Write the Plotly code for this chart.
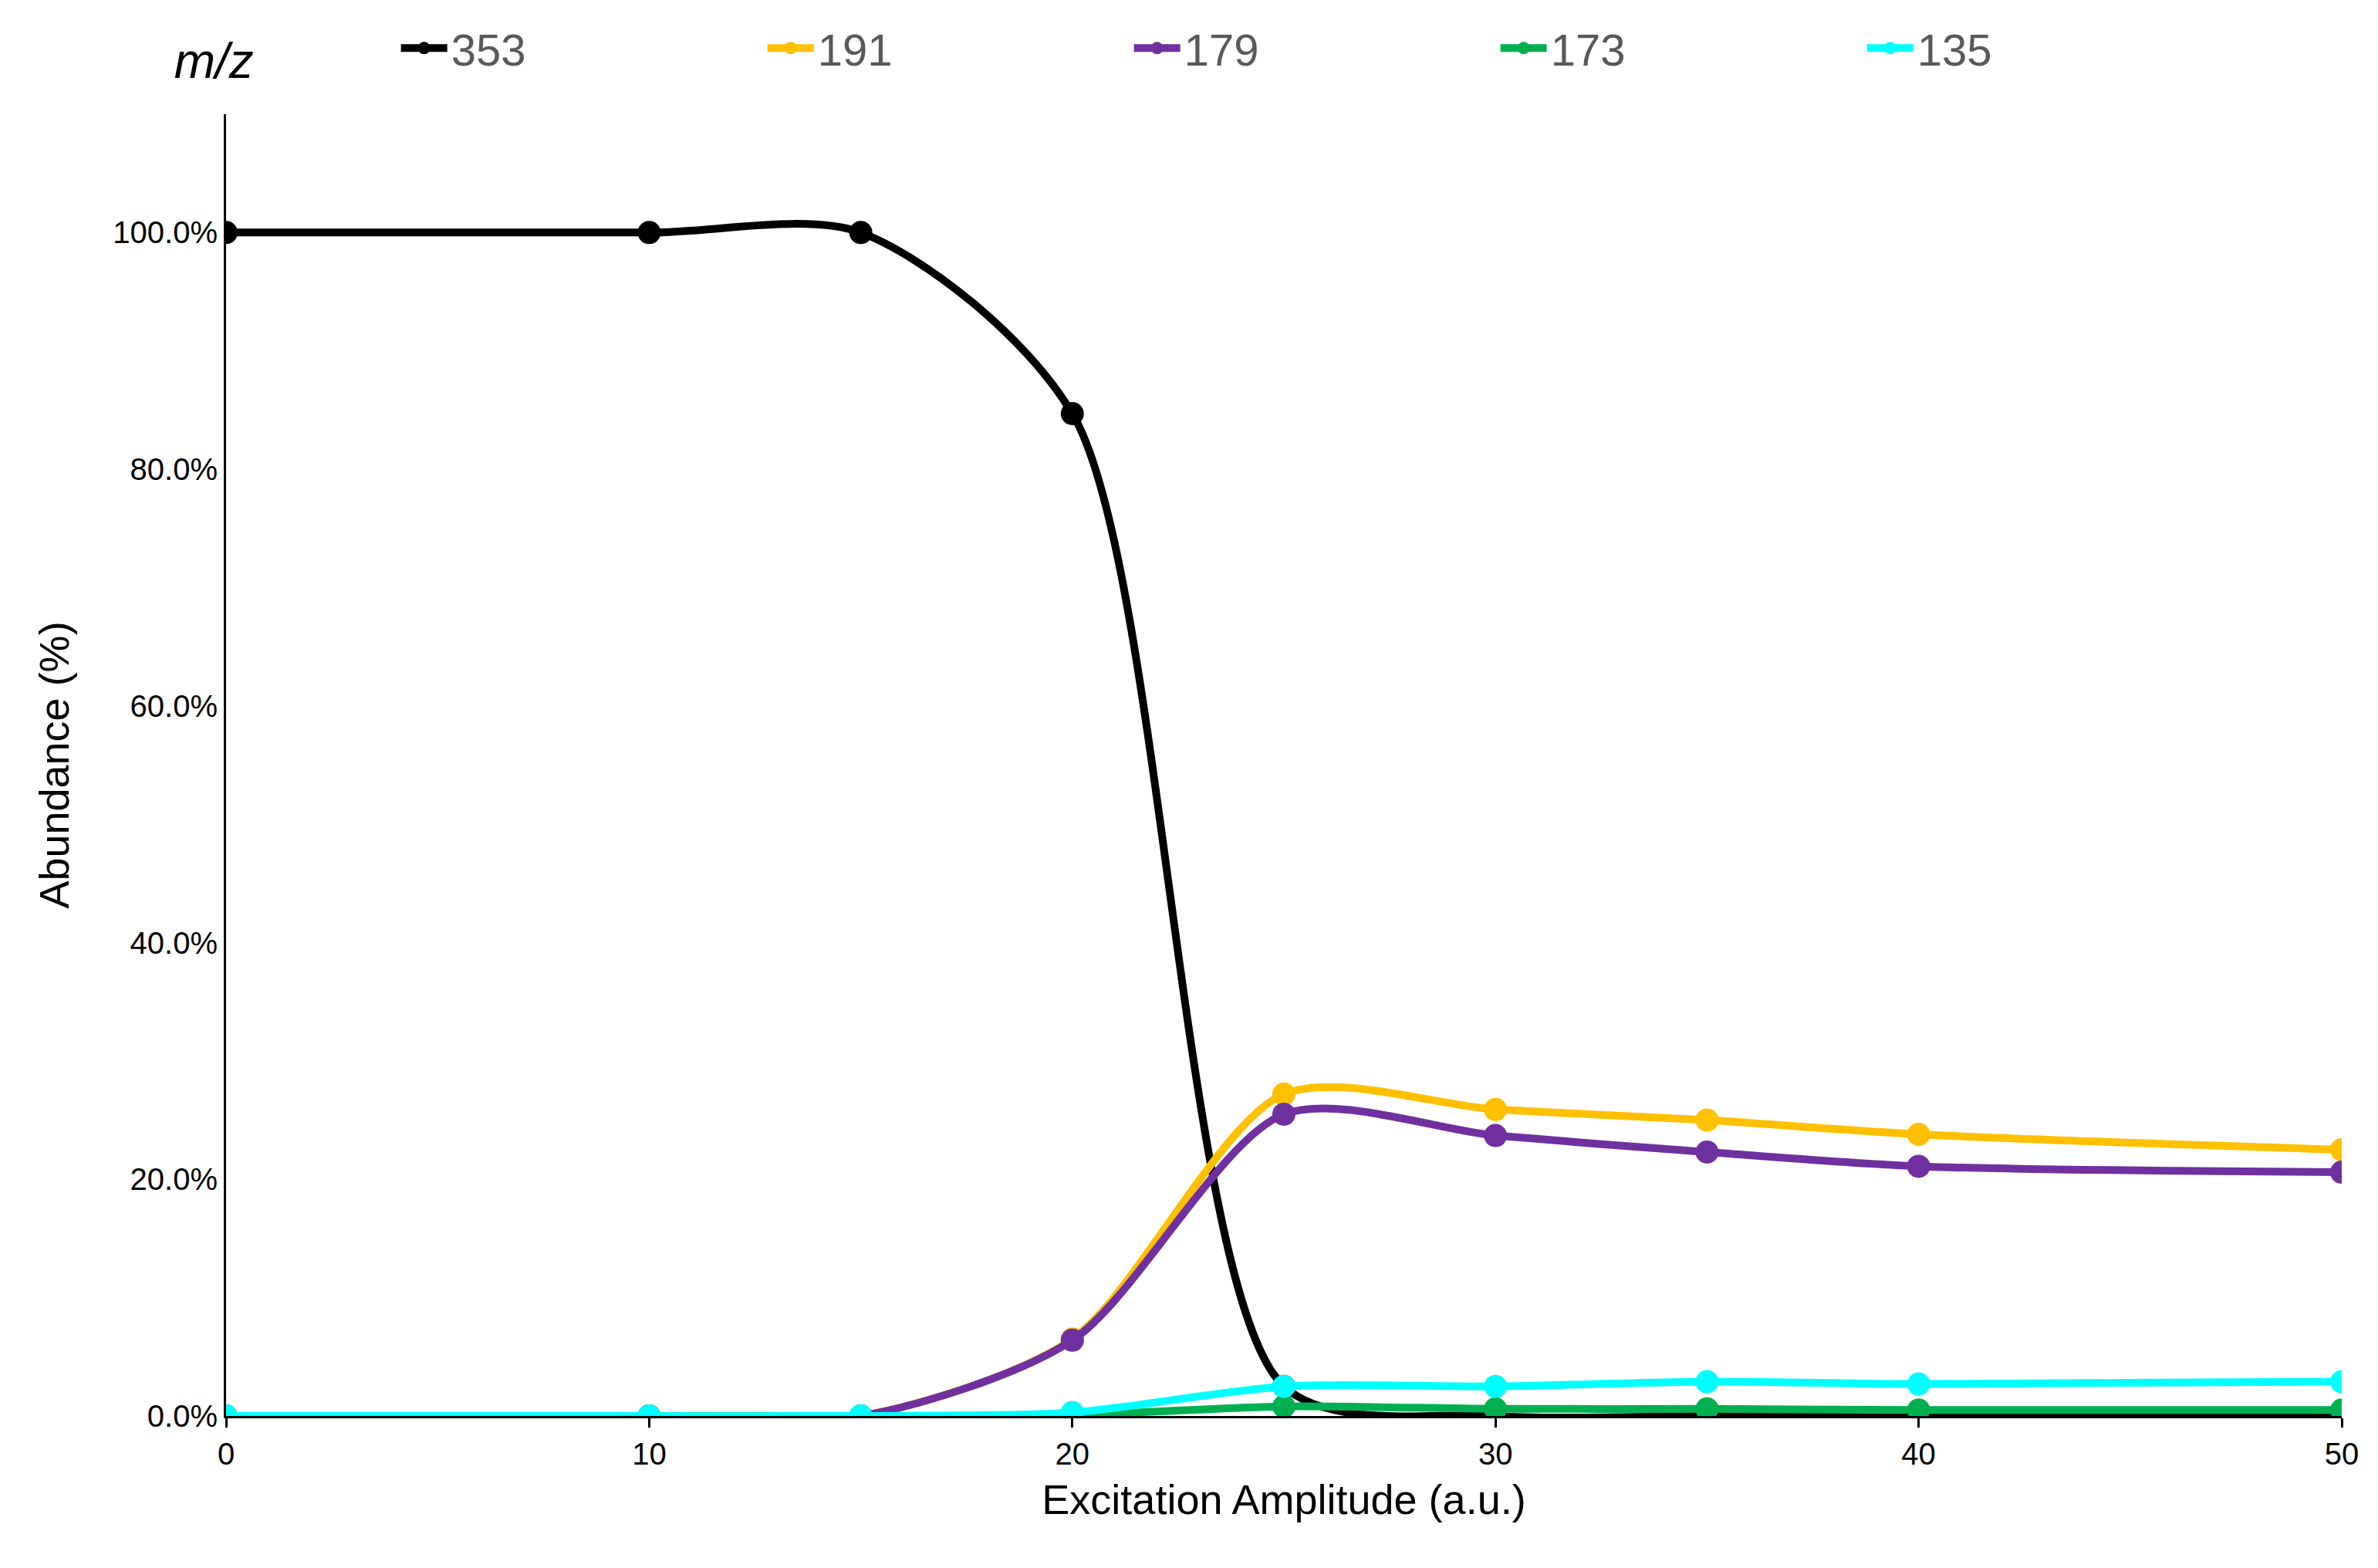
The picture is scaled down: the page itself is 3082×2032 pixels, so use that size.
import plotly.graph_objects as go

x = [0, 10, 15, 20, 25, 30, 35, 40, 50]
s353 = [100, 100, 100, 84.7, 2.5, 0, 0, 0, 0]
s191 = [0, 0, 0, 6.5, 27.2, 25.9, 25.0, 23.8, 22.5]
s179 = [0, 0, 0, 6.4, 25.5, 23.7, 22.3, 21.1, 20.6]
s173 = [0, 0, 0, 0.1, 0.8, 0.6, 0.6, 0.5, 0.5]
s135 = [0, 0, 0, 0.3, 2.5, 2.5, 2.9, 2.7, 2.9]
names = ["353", "191", "179", "173", "135"]
colors = ["#000000", "#FFC000", "#7030A0", "#00B050", "#00FFFF"]
series = [s353, s191, s179, s173, s135]

fig = go.Figure()
for n, c, s in zip(names, colors, series):
    fig.add_trace(go.Scatter(x=x, y=[v / 100 for v in s], name=n, mode="lines+markers",
                             line=dict(color=c, width=10, shape="spline", smoothing=0.8),
                             marker=dict(color=c, size=30)))

fig.update_layout(
    width=3082, height=2032, paper_bgcolor="white", plot_bgcolor="white",
    font=dict(family="Liberation Sans, Arial", color="#595959", size=40),
    margin=dict(l=285, r=55, t=140, b=205),
    showlegend=True,
    legend=dict(orientation="h", x=0.07, xref="container", xanchor="left",
                y=0.995, yref="container", yanchor="top",
                entrywidth=400, entrywidthmode="pixels",
                font=dict(size=58, color="#595959"),
                title=dict(text="<i>m/z</i>          ", font=dict(size=64, color="#000000")),
                itemwidth=60),
    xaxis=dict(range=[0, 50], tickvals=[0, 10, 20, 30, 40, 50], showgrid=False, zeroline=False,
               showline=True, linecolor="black", linewidth=3, ticks="outside", ticklen=12,
               tickcolor="black", tickwidth=3, tickfont=dict(size=40, color="black"),
               title=dict(text="Excitation Amplitude (a.u.)", font=dict(size=54, color="black"), standoff=20)),
    yaxis=dict(range=[0, 1.1], tickvals=[0, 0.2, 0.4, 0.6, 0.8, 1.0], tickformat=".1%",
               showgrid=False, zeroline=False, showline=True, linecolor="black", linewidth=3,
               tickfont=dict(size=40, color="black"),
               title=dict(text="Abundance (%)", font=dict(size=54, color="black"), standoff=40)),
)
fig.write_html("out.html")
